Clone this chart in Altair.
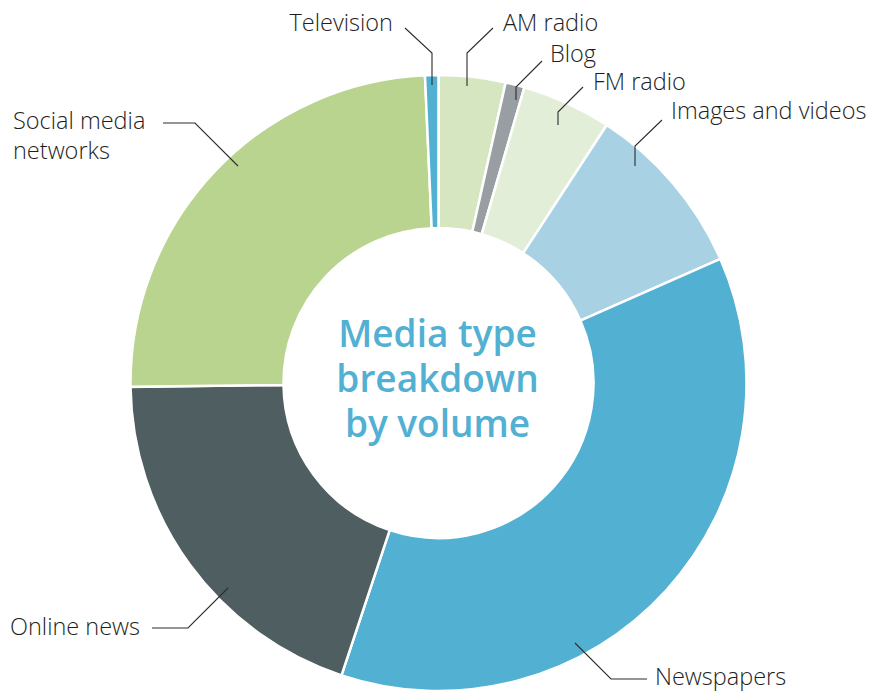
import altair as alt
import pandas as pd

# ---- data ----
categories = ["AM radio", "Blog", "FM radio", "Images and videos",
              "Newspapers", "Online news", "Social media networks", "Television"]
shares = [3.5, 1.0, 4.7, 9.2, 36.7, 19.7, 24.5, 0.7]
colors = ["#d5e6c0", "#999ea2", "#e3eed8", "#a8d1e4",
          "#52b0d3", "#4f5e60", "#b9d48f", "#52b0d3"]
label_texts = ["AM radio", "Blog", "FM radio", "Images and videos",
               "Newspapers", "Online news", "Social media\nnetworks", "Television"]
center_title = "Media type\nbreakdown\nby volume"

# ---- layout (pixel offsets from the donut centre) ----
R_OUT, R_IN = 308, 155
W = H = 2 * R_OUT
CX, CY = 438.5, 383.0
label_pos = {
    "AM radio": (503, 24, "left"),
    "Blog": (550, 55, "left"),
    "FM radio": (593, 83, "left"),
    "Images and videos": (671, 112, "left"),
    "Newspapers": (655, 678, "left"),
    "Online news": (10, 628, "left"),
    "Social media networks": (13, 122, "left"),
    "Television": (393, 24, "right"),
}
leaders = {
    "Television": [(432, 85), (432, 53), (405, 28)],
    "AM radio": [(467, 86), (467, 53), (493, 28)],
    "Blog": [(516, 100), (516, 87), (542, 61)],
    "FM radio": [(558, 125), (558, 112), (583, 87)],
    "Images and videos": [(635, 166), (635, 146), (662, 120)],
    "Social media networks": [(238, 166), (195, 123), (163, 123)],
    "Online news": [(228, 588), (188, 628), (152, 628)],
    "Newspapers": [(575, 643), (611, 679), (647, 679)],
}


def rel(x, y):
    return x - CX, CY - y


slices = pd.DataFrame({"category": categories, "share": shares,
                       "order": list(range(len(categories)))})

lab_rows = []
for cat, txt in zip(categories, label_texts):
    x, y, al = label_pos[cat]
    rx, ry = rel(x, y)
    lab_rows.append({"category": cat, "text": txt, "x": rx, "y": ry, "align": al})
labels = pd.DataFrame(lab_rows)

line_rows = []
for cat, pts in leaders.items():
    for i, (x, y) in enumerate(pts):
        rx, ry = rel(x, y)
        line_rows.append({"category": cat, "seq": i, "x": rx, "y": ry})
lines = pd.DataFrame(line_rows)

xs = alt.Scale(domain=[-R_OUT, R_OUT], nice=False, zero=False)
ys = alt.Scale(domain=[-R_OUT, R_OUT], nice=False, zero=False)

arcs = alt.Chart(slices).mark_arc(
    outerRadius=R_OUT, innerRadius=R_IN, stroke="white", strokeWidth=2.5
).encode(
    theta=alt.Theta("share:Q", stack=True),
    order=alt.Order("order:Q"),
    color=alt.Color("category:N", scale=alt.Scale(domain=categories, range=colors), legend=None),
)

leader_lines = alt.Chart(lines).mark_line(color="#2d2d2d", strokeWidth=1.1).encode(
    x=alt.X("x:Q", scale=xs, axis=None),
    y=alt.Y("y:Q", scale=ys, axis=None),
    detail="category:N",
    order="seq:Q",
)

LABEL_FONT = dict(font="Open Sans", fontWeight=300, fontSize=23.5,
                  color="#1e1e1e", lineBreak="\n", lineHeight=30, baseline="middle")

left_labels = alt.Chart(labels[labels["align"] == "left"]).mark_text(
    align="left", **LABEL_FONT
).encode(x=alt.X("x:Q", scale=xs, axis=None), y=alt.Y("y:Q", scale=ys, axis=None), text="text:N")

right_labels = alt.Chart(labels[labels["align"] == "right"]).mark_text(
    align="right", **LABEL_FONT
).encode(x=alt.X("x:Q", scale=xs, axis=None), y=alt.Y("y:Q", scale=ys, axis=None), text="text:N")

center = alt.Chart(pd.DataFrame({"text": [center_title], "x": [-1.0], "y": [47.0]})).mark_text(
    align="center", baseline="middle", font="Open Sans", fontWeight=600,
    fontSize=37, color="#52b0d3", lineBreak="\n", lineHeight=45,
).encode(x=alt.X("x:Q", scale=xs, axis=None), y=alt.Y("y:Q", scale=ys, axis=None), text="text:N")

chart = alt.layer(arcs, leader_lines, left_labels, right_labels, center).properties(
    width=W, height=H,
    autosize=alt.AutoSizeParams(type="none"),
    padding={"left": CX - R_OUT, "top": CY - R_OUT,
             "right": 872 - (CX - R_OUT) - W, "bottom": 693 - (CY - R_OUT) - H},
    background="white",
).configure_view(stroke=None)

chart.save("out.html", embed_options={"renderer": "svg", "actions": False})
